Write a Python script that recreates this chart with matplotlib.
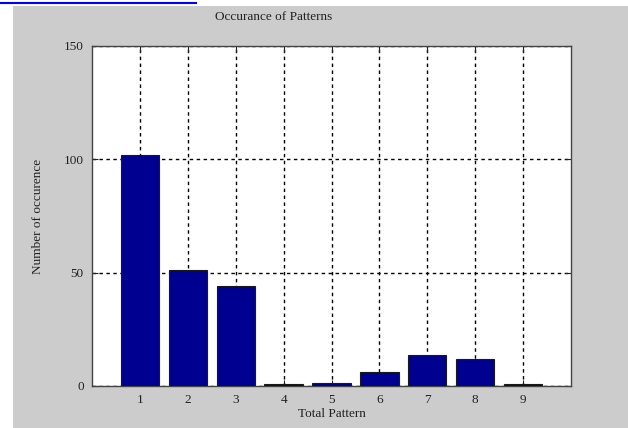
import numpy as np
import matplotlib
matplotlib.use('Agg')
import matplotlib.pyplot as plt
from matplotlib.patches import Rectangle
from matplotlib.lines import Line2D

# pattern counts
patterns = [1, 2, 3, 4, 5, 6, 7, 8, 9]
counts = [102, 51, 44, 1, 1.5, 6, 13.5, 12, 1]
yticks = [0, 50, 100, 150]

plt.rcParams['font.family'] = ['Liberation Serif', 'DejaVu Serif']

fig = plt.figure(figsize=(6.28, 4.28), dpi=100)
fig.patch.set_facecolor('white')

# grey figure panel + cut-off link underline above it
fig.patches.append(Rectangle((13/628, 0), 1 - 13/628, 1 - 6/428,
                             transform=fig.transFigure, facecolor='#cccccc',
                             edgecolor='none', zorder=-10))
fig.lines.append(Line2D([0, 196/628], [1 - 2.5/428, 1 - 2.5/428],
                        transform=fig.transFigure, color='#0000ff', lw=1.5,
                        zorder=-10))

ax = fig.add_axes([92/628, 42/428, 479/628, 340/428])
ax.set_facecolor('white')
ax.bar(patterns, counts, width=0.8, color='#000090', edgecolor='#1a1a1a',
       linewidth=0.8, zorder=3)

ax.set_xlim(0, 10)
ax.set_ylim(0, 150)
ax.set_xticks(patterns)
ax.set_yticks(yticks)
ax.grid(True, color='black', linestyle=(0, (2.5, 2.5)), linewidth=1.0, zorder=1)
ax.tick_params(direction='in', top=True, right=True, length=4, width=0.8,
               labelsize=9.5, colors='#222222', pad=6)
for s in ax.spines.values():
    s.set_color('#444444')
    s.set_linewidth(1.0)

fig.text(274/628, 1 - 17/428, 'Occurance of Patterns', fontsize=9.5,
         color='#222222', ha='center', va='center')
ax.set_xlabel('Total Pattern', fontsize=9.5, labelpad=1, color='#222222')
ax.set_ylabel('Number of occurence', fontsize=9.5, labelpad=14, color='#222222')

plt.savefig('out.png', dpi=100)
